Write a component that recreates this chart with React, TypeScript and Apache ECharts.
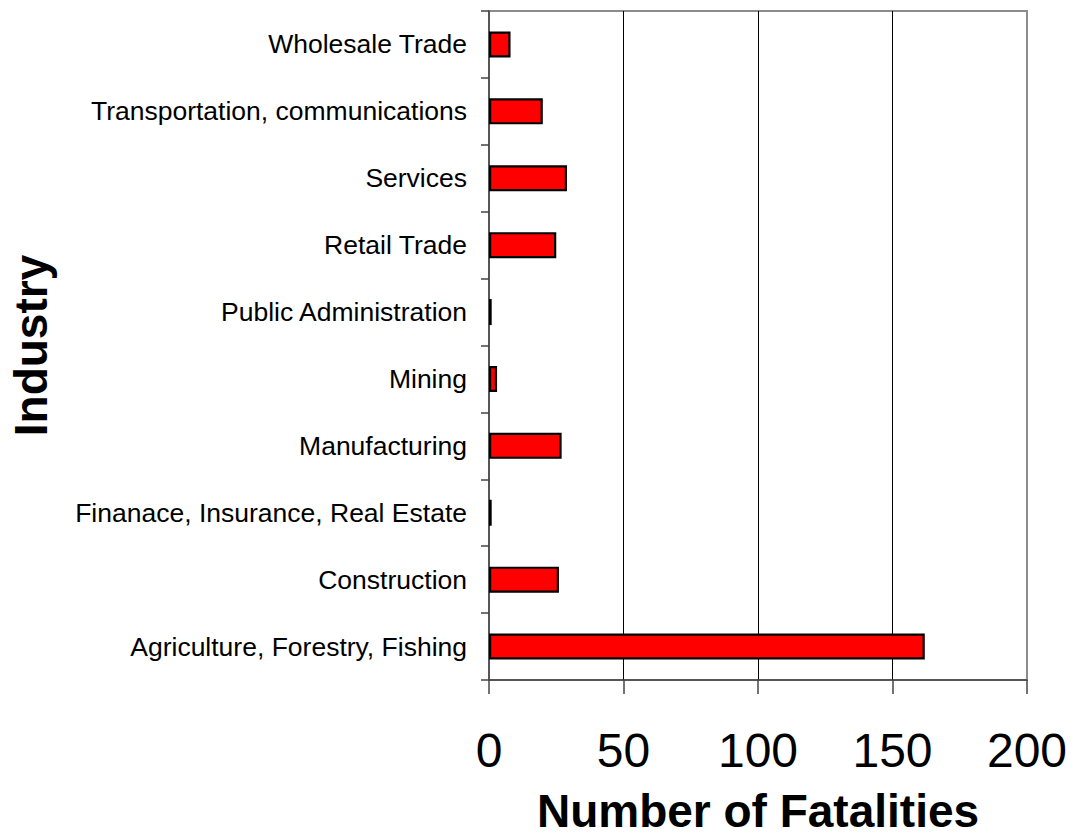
import React, { useEffect, useRef } from "react";
import * as echarts from "echarts";

const categories = [
  "Agriculture, Forestry, Fishing",
  "Construction",
  "Finanace, Insurance, Real Estate",
  "Manufacturing",
  "Mining",
  "Public Administration",
  "Retail Trade",
  "Services",
  "Transportation, communications",
  "Wholesale Trade",
];
const fatalities = [162, 26, 1, 27, 3, 1, 25, 29, 20, 8];
const xTicks = { min: 0, max: 200, interval: 50 };
const xTitle = "Number of Fatalities";
const yTitle = "Industry";

const FONT = "'Liberation Sans', Arial, Helvetica, sans-serif";

export default function App() {
  const ref = useRef<HTMLDivElement>(null);
  useEffect(() => {
    if (!ref.current) return;
    document.body.style.margin = "0";
    const chart = echarts.init(ref.current, null, { renderer: "svg" });
    chart.setOption({
      animation: false,
      backgroundColor: "#ffffff",
      grid: {
        left: 487,
        right: 44,
        top: 11,
        bottom: 151,
        show: true,
        borderColor: "#8c8c8c",
        borderWidth: 2,
        backgroundColor: "transparent",
      },
      xAxis: {
        type: "value",
        min: xTicks.min,
        max: xTicks.max,
        interval: xTicks.interval,
        name: xTitle,
        nameLocation: "middle",
        nameGap: 108,
        nameTextStyle: { fontFamily: FONT, fontSize: 46, fontWeight: "bold", color: "#000" },
        axisLine: { show: true, lineStyle: { color: "#444", width: 1.5 } },
        axisTick: { show: true, length: 14, lineStyle: { color: "#444", width: 1.5 } },
        axisLabel: { fontFamily: FONT, fontSize: 48, color: "#000", margin: 46 },
        splitLine: {
          show: true,
          showMinLine: false,
          showMaxLine: false,
          lineStyle: { color: "#000", width: 1 },
        },
      },
      yAxis: {
        type: "category",
        data: categories,
        name: yTitle,
        nameLocation: "middle",
        nameRotate: 90,
        nameGap: 435,
        nameTextStyle: { fontFamily: FONT, fontSize: 46, fontWeight: "bold", color: "#000" },
        axisLine: { show: true, lineStyle: { color: "#444", width: 1.5 } },
        axisTick: { show: true, length: 8, alignWithLabel: false, lineStyle: { color: "#444", width: 1.5 } },
        axisLabel: { fontFamily: FONT, fontSize: 26.5, color: "#000", margin: 22 },
        splitLine: { show: false },
      },
      series: [
        {
          type: "bar",
          data: fatalities,
          barWidth: 26,
          itemStyle: { color: "#ff0000", borderColor: "#000", borderWidth: 2.2 },
        },
      ],
    });
    return () => chart.dispose();
  }, []);
  return (
    <div
      ref={ref}
      style={{ position: "fixed", left: 0, top: 0, width: 1071, height: 839 }}
    />
  );
}
